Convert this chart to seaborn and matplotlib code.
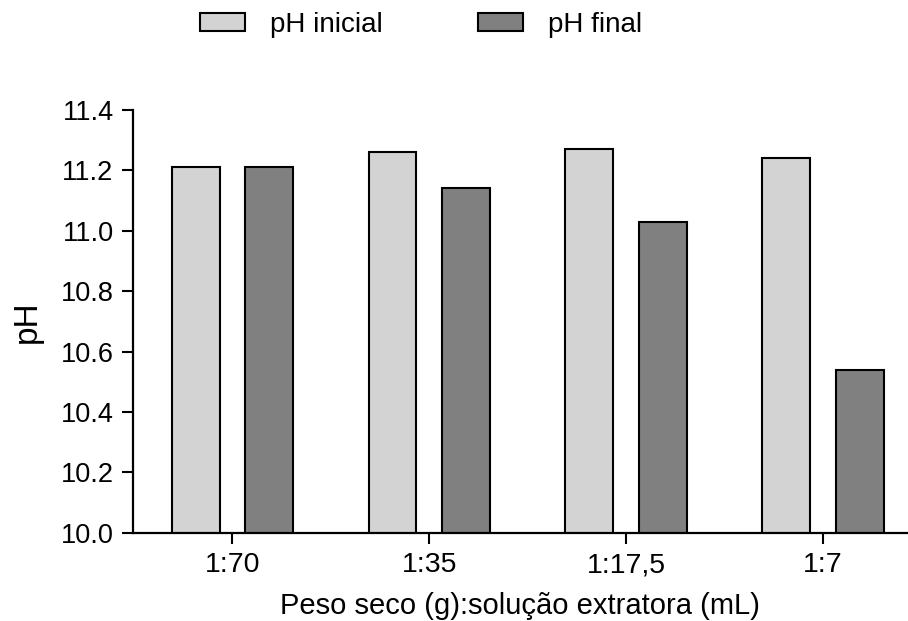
import pandas as pd
import seaborn as sns
import matplotlib.pyplot as plt
from matplotlib.patches import Patch

proporcoes = ["1:70", "1:35", "1:17,5", "1:7"]
ph_inicial = [11.21, 11.26, 11.27, 11.24]
ph_final = [11.21, 11.14, 11.03, 10.54]
series = ["pH inicial", "pH final"]
cores = {"pH inicial": "#d3d3d3", "pH final": "#808080"}

df = pd.DataFrame({
    "prop": proporcoes * 2,
    "pH": ph_inicial + ph_final,
    "serie": [series[0]] * 4 + [series[1]] * 4,
})

sns.set_style("ticks")
plt.rcParams['font.family'] = ['Liberation Sans', 'DejaVu Sans']
plt.rcParams['text.color'] = 'black'
plt.rcParams['axes.labelcolor'] = 'black'
plt.rcParams['xtick.color'] = 'black'
plt.rcParams['ytick.color'] = 'black'

fig = plt.figure(figsize=(9.08, 6.21), dpi=100)
ax = fig.add_axes([0.1465, 0.142, 0.853, 0.681])

sns.barplot(data=df, x="prop", y="pH", hue="serie", palette=cores,
            width=0.748, gap=0.35, edgecolor="black", linewidth=1.5,
            legend=False, ax=ax)

ax.set_ylim(10.0, 11.4)
ax.set_yticks([10.0, 10.2, 10.4, 10.6, 10.8, 11.0, 11.2, 11.4])
ax.set_yticklabels(["10.0", "10.2", "10.4", "10.6", "10.8", "11.0", "11.2", "11.4"])
ax.set_xlim(-0.505, 3.43)

sns.despine(ax=ax)
for s in ["left", "bottom"]:
    ax.spines[s].set_linewidth(1.6)
    ax.spines[s].set_color("black")
ax.tick_params(axis="both", width=1.5, length=8, color="black")
ax.tick_params(axis="y", labelsize=19.5, pad=6)
ax.tick_params(axis="x", labelsize=20.5, pad=6)

ax.set_ylabel("pH", fontsize=24, labelpad=13)
ax.set_xlabel("Peso seco (g):solução extratora (mL)", fontsize=21, labelpad=10)

handles = [Patch(facecolor=cores[s], edgecolor="black", linewidth=1.5, label=s) for s in series]
fig.legend(handles=handles, loc="center left", bbox_to_anchor=(0.22, 0.96),
           ncol=2, frameon=False, fontsize=20, handlelength=1.62, handleheight=0.61,
           handletextpad=0.92, columnspacing=3.4, borderpad=0, borderaxespad=0)

fig.savefig("out.png", dpi=100)
